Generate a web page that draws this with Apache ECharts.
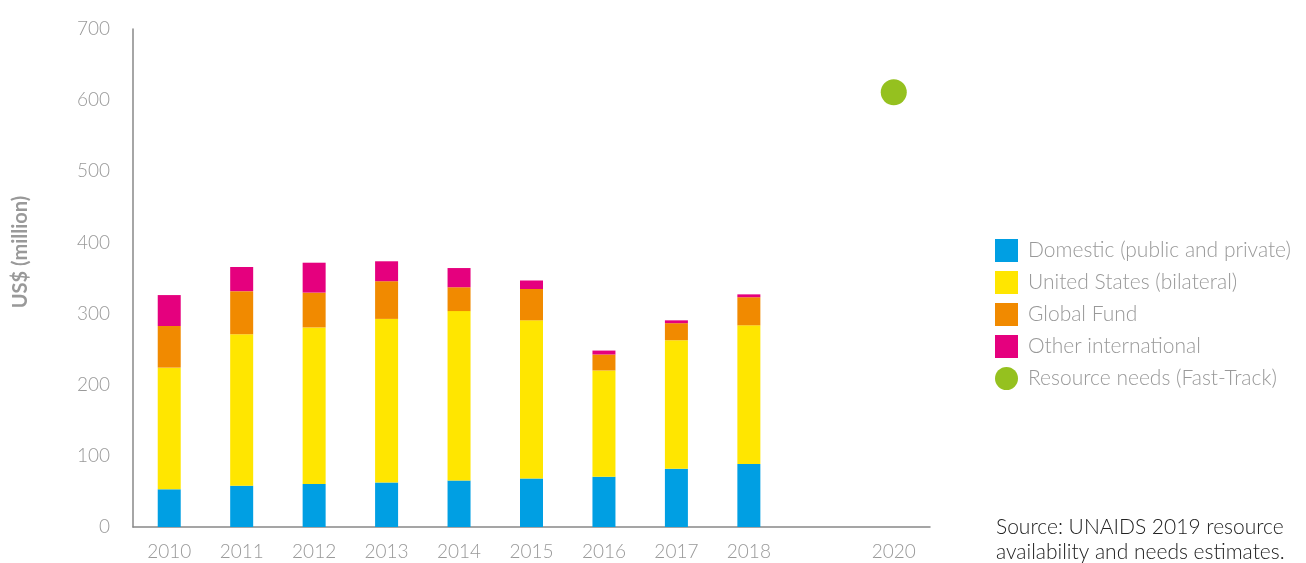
<!DOCTYPE html>
<html>
<head>
<meta charset="utf-8">
<script src="https://cdn.jsdelivr.net/npm/echarts@6/dist/echarts.min.js"></script>
<style>
html,body{margin:0;padding:0;background:#fff;}
#chart{width:1306px;height:563px;}
</style>
</head>
<body>
<div id="chart"></div>
<script>
var xLabels = ['2010','2011','2012','2013','2014','2015','2016','2017','2018','','2020'];
var domestic = [53, 58, 60.5, 62.5, 65.5, 68, 70.5, 82, 88.5];
var unitedStates = [171, 213, 220, 230, 238, 222.5, 149.5, 180.5, 195];
var globalFund = [58.5, 60.5, 49, 53, 33.5, 44, 22.5, 24, 39.5];
var otherIntl = [43.5, 34, 42, 28, 27, 12, 5.5, 4, 4];
var needsYears = ['2020'];
var needsValues = [611];
var yTicks = [0, 100, 200, 300, 400, 500, 600, 700];

var font = 'Lato, "Open Sans", sans-serif';
var chart = echarts.init(document.getElementById('chart'), null, {renderer: 'canvas'});

function barSeries(name, data, color) {
  return {
    name: name, type: 'bar', stack: 'total', data: data,
    barWidth: 23, itemStyle: {color: color}, silent: true
  };
}

chart.setOption({
  animation: false,
  grid: {left: 133, right: 376, top: 29, bottom: 36, containLabel: false},
  xAxis: {
    type: 'category', data: xLabels, boundaryGap: true,
    axisLine: {lineStyle: {color: '#888', width: 1.5}},
    axisTick: {show: false},
    axisLabel: {color: '#999', fontSize: 19, fontFamily: font, fontWeight: 300, margin: 15}
  },
  yAxis: {
    type: 'value', min: yTicks[0], max: yTicks[yTicks.length - 1], interval: 100,
    axisLine: {show: true, lineStyle: {color: '#888', width: 1.5}},
    axisTick: {show: false},
    splitLine: {show: false},
    axisLabel: {color: '#999', fontSize: 19, fontFamily: font, fontWeight: 300, margin: 23}
  },
  legend: {
    orient: 'vertical', left: 995, top: 239, padding: 0, itemWidth: 23, itemHeight: 23, itemGap: 9,
    textStyle: {color: '#999', fontSize: 21, fontFamily: font, fontWeight: 300, padding: [4, 0, 0, 5]},
    data: [
      {name: 'Domestic (public and private)', icon: 'rect'},
      {name: 'United States (bilateral)', icon: 'rect'},
      {name: 'Global Fund', icon: 'rect'},
      {name: 'Other international', icon: 'rect'},
      {name: 'Resource needs (Fast-Track)', icon: 'circle'}
    ],
    selectedMode: false
  },
  graphic: [{
    type: 'text', x: 21, y: 252, rotation: Math.PI / 2,
    style: {
      text: 'US$ (million)', fill: '#999', fontSize: 20, fontWeight: 'bold', fontFamily: font,
      align: 'center', verticalAlign: 'middle'
    }
  }, {
    type: 'text', left: 996, top: 515,
    style: {
      text: 'Source: UNAIDS 2019 resource\navailability and needs estimates.',
      fill: '#222', fontSize: 21, fontFamily: font, fontWeight: 300, lineHeight: 25
    }
  }],
  series: [
    barSeries('Domestic (public and private)', domestic, '#009fe3'),
    barSeries('United States (bilateral)', unitedStates, '#ffe600'),
    barSeries('Global Fund', globalFund, '#f18a00'),
    barSeries('Other international', otherIntl, '#e5007e'),
    {
      name: 'Resource needs (Fast-Track)', type: 'scatter', symbol: 'circle', symbolSize: 26,
      itemStyle: {color: '#95c11f', opacity: 1},
      data: needsYears.map(function (y, i) { return [y, needsValues[i]]; })
    }
  ]
});
</script>
</body>
</html>
